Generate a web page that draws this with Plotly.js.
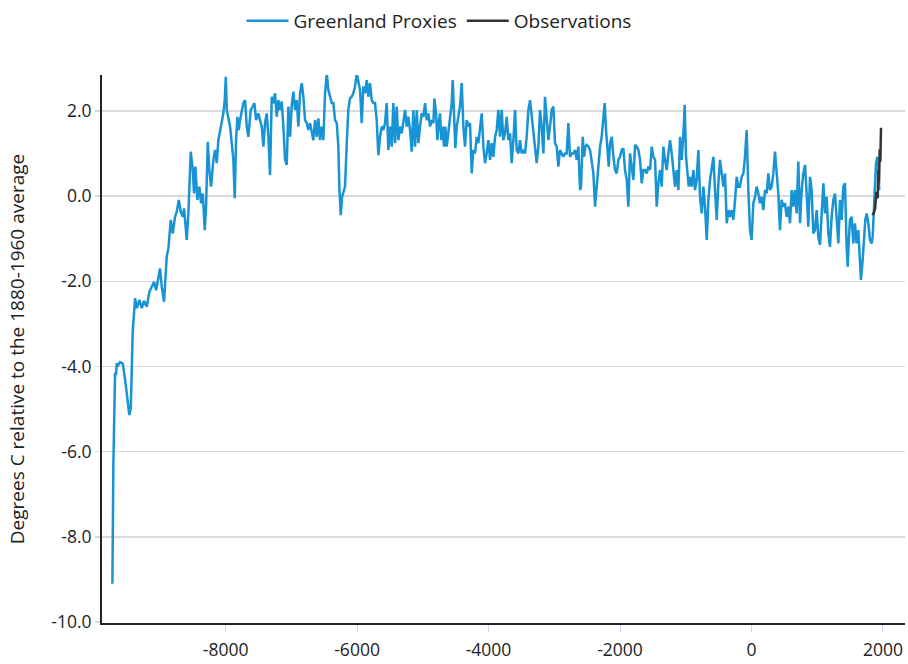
<!DOCTYPE html>
<html>
<head>
<meta charset="utf-8">
<script src="https://cdn.plot.ly/plotly-3.0.1.min.js"></script>
<style>html,body{margin:0;padding:0;background:#fff;}#chart{width:908px;height:664px;}</style>
</head>
<body>
<div id="chart"></div>
<script>
// Greenland proxy temperature (years, °C relative to 1880-1960 average)
const proxyYears = [
-9722,-9707,-9681,-9666,-9655,-9646,-9605,-9564,-9529,-9494,-9464,-9442,-9427,-9412,-9390,-9377,-9351,-9311,-9275,-9240,
-9199,-9159,-9123,-9088,-9057,-9023,-8997,-8971,-8936,-8895,-8870,-8834,-8804,-8769,-8743,-8712,-8682,-8651,-8632,-8591,
-8566,-8530,-8499,-8480,-8460,-8429,-8399,-8373,-8347,-8317,-8297,-8271,-8247,-8221,-8186,-8160,-8134,-8110,-8084,-8054,
-8034,-8013,-7997,-7982,-7958,-7932,-7906,-7882,-7861,-7841,-7821,-7800,-7780,-7754,-7730,-7704,-7678,-7654,-7617,-7587,
-7562,-7536,-7501,
-7476,-7450,-7425,-7400,-7374,-7349,-7324,-7298,-7273,-7248,-7222,-7197,-7172,-7146,-7121,-7095,-7070,-7045,-7019,-6993,
-6969,-6943,-6917,-6893,-6867,-6841,-6817,-6791,-6765,-6741,-6715,-6689,-6665,-6639,-6613,-6589,-6563,-6537,-6513,-6487,
-6461,-6437,-6411,-6385,-6361,-6335,-6309,-6285,-6270,-6248,-6228,-6209,-6183,-6157,-6133,-6107,-6081,-6057,-6031,-6005,
-5980,-5955,-5929,-5905,-5879,-5853,-5829,-5803,-5777,-5752,-5727,-5701,-5676,-5651,-5625,-5600,-5575,-5549,-5524,-5498,
-5473,-5448,-5422,-5397,-5372,-5346,-5320,-5296,-5270,-5244,-5220,-5194,-5168,-5144,-5118,-5092,-5068,-5042,
-5017,-4991,-4966,-4941,-4915,-4890,-4865,-4839,-4824,-4799,-4778,-4753,-4738,-4718,-4697,-4677,-4657,-4636,-4611,-4586,
-4560,-4545,-4525,-4505,-4484,-4459,-4434,-4408,-4383,-4358,-4332,-4307,-4282,-4256,-4231,-4205,-4180,-4155,-4129,-4104,
-4079,-4053,-4028,-4003,-3977,-3952,-3927,-3901,-3876,-3851,-3825,-3800,-3775,-3749,-3724,-3698,-3673,-3648,-3622,-3597,
-3572,-3546,-3521,-3496,-3470,-3445,-3420,-3394,-3369,-3344,-3318,-3293,-3268,-3242,-3217,-3191,-3166,-3141,-3115,-3090,
-3065,-3039,-3014,-2989,-2963,-2938,-2913,-2887,-2862,-2837,-2811,-2786,-2761,-2735,-2710,-2684,-2659,-2634,-2608,
-2593,-2567,-2547,-2527,-2507,-2481,-2456,-2431,-2405,-2380,-2355,-2329,-2304,-2279,-2253,-2233,-2213,-2192,-2172,-2152,
-2126,-2101,-2076,-2050,-2025,-2000,-1974,-1949,-1924,-1898,-1873,-1848,-1822,-1797,-1771,-1746,-1721,-1695,-1670,-1645,
-1619,-1594,-1569,-1543,-1518,-1493,-1467,-1442,-1417,-1391,-1366,-1341,-1315,-1290,-1264,-1239,-1214,-1188,-1163,-1138,
-1112,-1087,-1062,-1036,-1016,-996,-975,-955,-935,-910,-884,-859,-834,-808,-783,-757,-732,-707,-681,-656,
-631,-605,-580,-555,-529,-504,-479,-453,-428,-403,-377,-352,-327,-301,-276,-250,-225,-200,
-175,-150,-124,-99,-74,-48,-23,2,28,53,79,104,129,155,180,205,231,256,281,307,
332,357,383,408,433,459,484,509,535,560,586,611,636,662,687,712,738,763,788,814,
839,864,890,915,940,966,991,1016,1042,1067,1093,1118,1143,1169,1194,1219,1245,1270,1295,1321,
1346,1371,1397,1422,1447,1463,1483,1498,1523,1549,1574,1599,1625,1650,1665,1691,1711,1731,1752,1777,
1802,1828,1843,1863,1878,1894,1914,1929,1944
];
const proxyTemps = [
-9.1,-6.3,-4.15,-4.2,-3.92,-4.0,-3.9,-3.93,-4.3,-4.7,-5.14,-4.97,-4.1,-3.15,-2.7,-2.40,-2.63,-2.44,-2.63,-2.46,
-2.60,-2.25,-2.13,-2.01,-2.21,-1.89,-1.70,-2.13,-2.48,-1.42,-1.23,-0.56,-0.88,-0.49,-0.37,-0.09,-0.37,-0.49,-0.29,-1.03,
-0.41,1.04,0.61,0.06,0.69,-0.09,0.22,-0.17,0.06,-0.80,-0.25,1.27,0.61,0.22,0.85,1.08,0.77,1.31,1.55,1.78,
1.94,2.25,2.80,2.02,1.78,1.63,1.24,0.85,-0.05,1.31,1.86,1.55,1.78,2.02,2.18,2.25,1.63,1.39,2.02,2.10,
2.18,1.78,1.94,
1.78,1.63,1.16,1.71,1.94,1.39,0.49,2.33,2.18,2.41,1.86,2.25,2.02,2.22,1.63,0.85,0.73,2.10,1.39,2.14,
2.45,2.02,2.25,1.63,2.41,2.65,2.33,1.78,1.71,1.55,1.71,1.47,1.31,1.78,1.39,1.82,1.31,1.63,1.31,2.41,
2.88,2.49,2.33,2.18,2.18,1.78,1.71,1.16,0.22,-0.45,-0.02,0.06,0.22,1.24,2.02,2.29,2.33,2.41,2.57,2.88,
2.72,2.49,1.71,2.57,2.41,2.72,2.33,2.65,2.25,2.18,2.18,1.78,0.96,1.39,1.63,1.55,1.71,2.18,1.08,1.63,
1.16,2.18,1.24,2.10,1.31,1.63,1.47,1.78,2.02,1.63,1.86,1.55,1.04,2.02,1.16,2.02,1.24,1.63,
1.94,1.86,2.18,1.78,1.94,1.63,1.78,1.71,2.29,1.94,1.31,1.78,1.94,1.31,1.63,1.16,1.63,1.16,1.55,1.86,
2.18,2.72,2.02,1.12,1.63,1.86,2.10,2.65,1.63,1.16,1.78,1.63,1.71,0.53,1.08,1.00,1.39,1.24,1.63,1.94,
1.16,0.77,1.00,1.31,0.85,1.24,0.92,1.39,1.55,2.02,1.39,2.02,1.31,1.47,1.86,1.31,1.47,0.77,1.31,2.02,
1.08,1.00,1.31,1.00,1.08,1.00,1.39,2.02,2.25,1.86,1.39,1.16,0.77,1.16,2.02,1.63,1.00,2.33,1.78,1.31,
1.63,2.02,2.10,1.24,1.16,0.69,1.08,1.00,0.92,1.00,1.00,1.71,0.92,1.00,1.00,1.08,0.85,1.16,0.14,
0.22,1.39,0.92,1.16,1.20,1.16,1.08,0.85,0.53,-0.25,0.22,0.53,1.16,1.39,1.78,2.18,1.55,1.00,0.69,1.24,
1.39,0.92,0.61,0.53,0.85,0.92,1.08,1.12,0.61,0.38,-0.25,1.00,0.61,0.38,1.20,1.16,1.08,0.85,0.30,0.61,
0.61,0.53,0.69,0.61,1.16,0.92,0.85,-0.25,0.30,0.61,0.22,1.16,0.85,0.61,1.00,1.31,1.00,0.53,0.22,0.61,
0.14,1.39,0.85,1.47,2.14,0.92,0.61,0.22,0.45,0.22,0.61,0.14,0.38,1.08,-0.02,-0.41,0.22,-0.25,-1.03,-0.09,
0.38,0.69,0.92,0.14,-0.56,0.30,0.85,0.53,0.22,0.53,-0.64,-0.33,-0.49,-0.33,-0.56,-0.09,0.45,0.22,
0.22,0.45,0.53,0.92,1.55,0.14,-0.80,-1.03,-0.17,-0.02,0.22,0.06,-0.17,-0.02,-0.33,0.14,0.06,0.53,0.14,0.22,
0.53,1.04,0.53,0.06,-0.80,-0.09,-0.25,-0.17,-0.49,-0.25,-0.64,0.14,-0.25,0.14,-0.41,0.81,-0.64,0.14,0.53,0.73,
0.06,-0.72,0.45,0.14,-0.88,-0.80,-0.33,-0.96,-1.15,-0.41,0.30,-0.41,-0.02,-0.88,-1.19,-0.49,-0.09,0.06,-0.64,-1.11,
-0.09,-0.56,0.22,0.30,-1.19,-1.66,-0.96,-0.56,-0.49,-1.11,-0.64,-1.11,-0.80,-1.58,-1.97,-1.50,-0.88,-0.56,-0.41,-0.64,
-1.03,-1.11,-0.96,-0.17,0.30,0.77,0.92,0.45,0.14
];
// Instrumental observations
const obsYears = [1840, 1860, 1880, 1900, 1920, 1930, 1940, 1950, 1960, 1970];
const obsTemps = [-0.45, -0.4, -0.3, 0.1, -0.05, 0.6, 0.3, 1.1, 0.8, 1.6];

const xTickVals = [-8000, -6000, -4000, -2000, 0, 2000];
const xTickText = ["-8000", "-6000", "-4000", "-2000", "0", "2000"];
const yTickVals = [2, 0, -2, -4, -6, -8, -10];
const yTickText = ["2.0", "0.0", "-2.0", "-4.0", "-6.0", "-8.0", "-10.0"];

const FONT = "Open Sans, Noto Sans, sans-serif";

const traces = [
  {x: proxyYears, y: proxyTemps, type: "scatter", mode: "lines", name: "Greenland Proxies",
   line: {color: "#1893d3", width: 2.5}},
  {x: obsYears, y: obsTemps, type: "scatter", mode: "lines", name: "Observations",
   line: {color: "#333333", width: 2.5}}
];

const layout = {
  width: 908, height: 664,
  margin: {l: 102, r: 3, t: 75, b: 41},
  paper_bgcolor: "#fff", plot_bgcolor: "#fff",
  font: {family: FONT, color: "#222", size: 17},
  showlegend: true,
  legend: {orientation: "h", xref: "container", yref: "container", x: 0.266, y: 0.997,
           xanchor: "left", yanchor: "top", font: {family: FONT, size: 19, color: "#222"},
           itemwidth: 42, bgcolor: "rgba(0,0,0,0)"},
  xaxis: {range: [-9880, 2335], tickvals: xTickVals, ticktext: xTickText,
          showgrid: false, zeroline: false, showline: true, linecolor: "#222", linewidth: 2,
          ticks: "outside", ticklen: 7, tickcolor: "#c9d6ea", tickwidth: 1,
          ticklabelstandoff: 3,
          tickfont: {family: FONT, size: 17.5, color: "#222"}},
  yaxis: {range: [-10.02, 2.84], tickvals: yTickVals, ticktext: yTickText,
          showgrid: true, gridcolor: "#dadada", gridwidth: 1.5, zeroline: false,
          showline: true, linecolor: "#222", linewidth: 2,
          ticks: "outside", ticklen: 5, tickcolor: "#dadada", tickwidth: 1.5,
          tickfont: {family: FONT, size: 17.5, color: "#222"},
          title: {text: "Degrees C relative to the 1880-1960 average", standoff: 22,
                  font: {family: FONT, size: 19, color: "#222"}}}
};

Plotly.newPlot("chart", traces, layout, {displayModeBar: false, staticPlot: true});
</script>
</body>
</html>
